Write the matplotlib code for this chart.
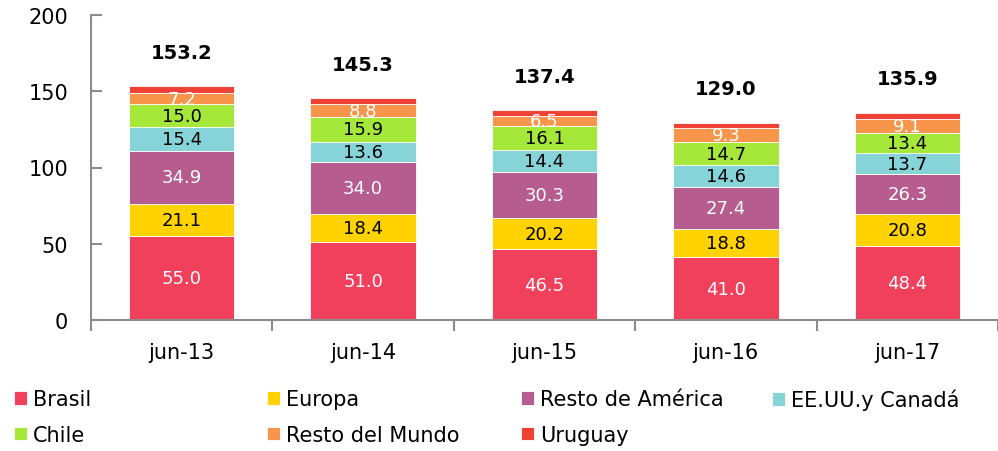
import matplotlib
matplotlib.use("Agg")
import matplotlib.pyplot as plt
import numpy as np

categories = ["jun-13", "jun-14", "jun-15", "jun-16", "jun-17"]
brasil = [55.0, 51.0, 46.5, 41.0, 48.4]
europa = [21.1, 18.4, 20.2, 18.8, 20.8]
resto_america = [34.9, 34.0, 30.3, 27.4, 26.3]
eeuu_canada = [15.4, 13.6, 14.4, 14.6, 13.7]
chile = [15.0, 15.9, 16.1, 14.7, 13.4]
resto_mundo = [7.2, 8.8, 6.5, 9.3, 9.1]
uruguay = [4.6, 3.6, 3.4, 3.2, 4.2]
totals = [153.2, 145.3, 137.4, 129.0, 135.9]

series = [
    ("Brasil", brasil, "#F0405C", "white"),
    ("Europa", europa, "#FFD200", "black"),
    ("Resto de América", resto_america, "#B65C8E", "white"),
    ("EE.UU.y Canadá", eeuu_canada, "#86D4D8", "black"),
    ("Chile", chile, "#A5E83A", "black"),
    ("Resto del Mundo", resto_mundo, "#F7964A", "white"),
    ("Uruguay", uruguay, "#EF4136", None),
]

plt.rcParams['font.family'] = ['DejaVu Sans']

fig = plt.figure(figsize=(9.98, 4.52), dpi=100)
ax = fig.add_axes([91/998, 1-321/452, (998-91)/998, (321-16)/452])

x = np.arange(len(categories))
bottom = np.zeros(len(categories))
handles = {}
for name, vals, color, tcolor in series:
    vals = np.array(vals)
    bars = ax.bar(x, vals, 0.58, bottom=bottom, color=color, edgecolor="white", linewidth=0.6, label=name)
    handles[name] = bars
    if tcolor:
        for xi, b, v in zip(x, bottom, vals):
            ax.text(xi, b + v/2, f"{v:.1f}", ha="center", va="center", color=tcolor, fontsize=13)
    bottom = bottom + vals

for xi, t in zip(x, totals):
    ax.text(xi, t + 22.5, f"{t:.1f}", ha="center", va="center", fontsize=14, fontweight="bold", color="black")

ax.set_xlim(-0.5, 4.46)
ax.set_ylim(0, 200)
ax.set_yticks([0, 50, 100, 150, 200])
ax.tick_params(axis="y", labelsize=15, length=8, color="#8c8c8c", direction="in", pad=16.5, width=1.5)
ax.set_xticks(x)
ax.set_xticklabels(categories)
ax.tick_params(axis="x", labelsize=15, length=0, pad=15.5)
ax.set_xticks(np.arange(-0.5, 4.6, 1), minor=True)
ax.tick_params(axis="x", which="minor", length=8, color="#8c8c8c", direction="out", width=1.5)
for s in ["top", "right"]:
    ax.spines[s].set_visible(False)
for s in ["left", "bottom"]:
    ax.spines[s].set_color("#8c8c8c")
    ax.spines[s].set_linewidth(1.5)

legend_pos = {
    "Brasil": (14, 400.5), "Europa": (267, 400.5), "Resto de América": (521, 400.5), "EE.UU.y Canadá": (772, 400.5),
    "Chile": (14, 436), "Resto del Mundo": (267, 436), "Uruguay": (521, 436),
}
for name, (px, py) in legend_pos.items():
    fig.legend([handles[name]], [name], loc="center left", bbox_to_anchor=(px/998, 1-py/452),
               frameon=False, fontsize=15, handlelength=0.62, handleheight=0.62, handletextpad=0.3,
               borderpad=0, borderaxespad=0)

fig.savefig("out.png", dpi=100)
